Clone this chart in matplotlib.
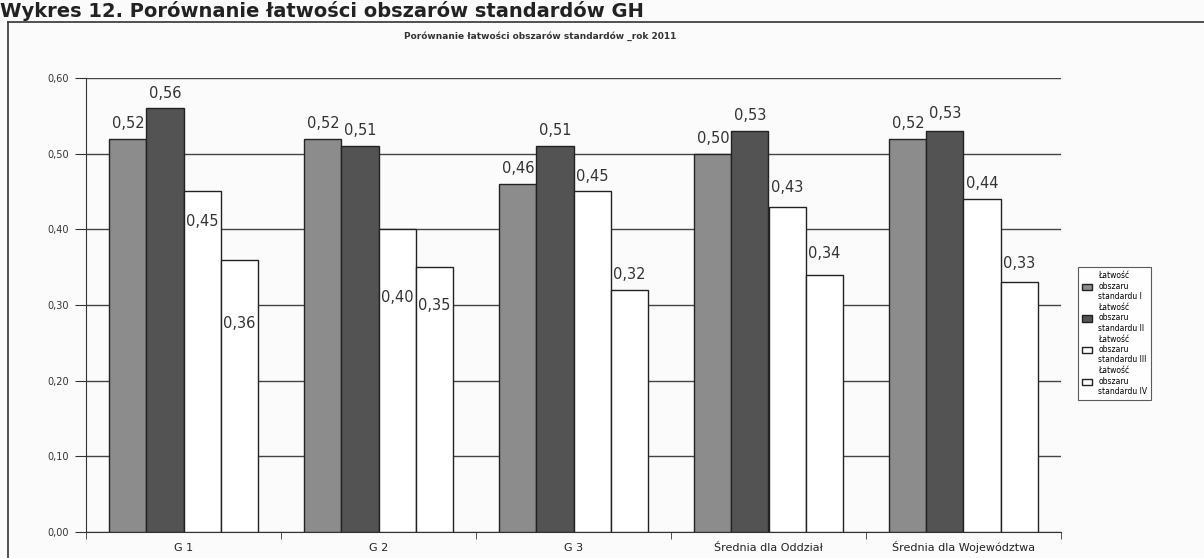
import numpy as np
import matplotlib.pyplot as plt
from matplotlib.ticker import FixedLocator

# chart data
categories = ["G 1", "G 2", "G 3", "Średnia dla Oddział", "Średnia dla Województwa"]
series_names = ["Łatwość\nobszaru\nstandardu I", "Łatwość\nobszaru\nstandardu II",
                "Łatwość\nobszaru\nstandardu III", "Łatwość\nobszaru\nstandardu IV"]
std_1 = [0.52, 0.52, 0.46, 0.50, 0.52]
std_2 = [0.56, 0.51, 0.51, 0.53, 0.53]
std_3 = [0.45, 0.40, 0.45, 0.43, 0.44]
std_4 = [0.36, 0.35, 0.32, 0.34, 0.33]
yticks = [0.0, 0.1, 0.2, 0.3, 0.4, 0.5, 0.6]

# label shift relative to bar top (Excel placed a few of them inside the bars)
label_dy = [
    [0.02, 0.02, -0.04, -0.084],
    [0.02, 0.02, -0.09, -0.05],
    [0.02, 0.02, 0.02, 0.02],
    [0.02, 0.02, 0.025, 0.028],
    [0.02, 0.023, 0.02, 0.025],
]

colors = ["#8c8c8c", "#535353", "white", "white"]
series = [std_1, std_2, std_3, std_4]

fig = plt.figure(figsize=(12.04, 5.58), dpi=100)
fig.patch.set_facecolor("#fbfbfb")

# page header above the chart and the chart frame
fig.text(0.0, 1 - 1 / 558, "Wykres 12. Porównanie łatwości obszarów standardów GH",
         fontsize=14, fontweight="bold", color="#222222", va="top", ha="left")
fig.add_artist(plt.Line2D([8 / 1204, 8 / 1204], [0, 1 - 22 / 558], color="#333333", lw=1.2))
fig.add_artist(plt.Line2D([8 / 1204, 1], [1 - 22 / 558, 1 - 22 / 558], color="#333333", lw=1.2))
fig.text(540 / 1204, 1 - 36 / 558, "Porównanie łatwości obszarów standardów _rok 2011",
         fontsize=6.5, ha="center", va="center", color="#333333", fontweight="bold")

ax = fig.add_axes([86 / 1204, 1 - 532 / 558, 975 / 1204, 454 / 558])
ax.set_facecolor("none")

x = np.arange(len(categories))
w = 0.19
for i, vals in enumerate(series):
    pos = x + (i - 1.5) * w
    ax.bar(pos, vals, width=w, color=colors[i], edgecolor="#222222", linewidth=1.0,
           label=series_names[i], zorder=3)
    for j, v in enumerate(vals):
        ax.text(pos[j], v + label_dy[j][i], f"{v:.2f}".replace(".", ","),
                ha="center", va="center", fontsize=10.5, color="#333333", zorder=4)

ax.set_xlim(-0.5, len(categories) - 0.5)
ax.set_ylim(0, 0.6)
ax.set_yticks(yticks)
ax.set_yticklabels([f"{t:.2f}".replace(".", ",") for t in yticks], fontsize=7, color="#333333")
ax.yaxis.grid(True, color="#444444", linewidth=1.0, zorder=0)
ax.set_axisbelow(True)

ax.set_xticks(x)
ax.set_xticklabels(categories, fontsize=8, color="#222222", va="baseline")
ax.xaxis.set_minor_locator(FixedLocator(np.arange(-0.5, len(categories), 1.0)))
ax.tick_params(axis="x", which="major", length=0, pad=14)
ax.tick_params(axis="x", which="minor", length=5, direction="out", color="#333333")
ax.tick_params(axis="y", length=8, direction="out", color="#333333", pad=4)

for s in ["top", "right"]:
    ax.spines[s].set_visible(False)
ax.spines["left"].set_color("#333333")
ax.spines["bottom"].set_color("#333333")

leg = ax.legend(loc="center left", bbox_to_anchor=(1.014, 0.437), fontsize=5.5,
                frameon=True, fancybox=False, edgecolor="#333333",
                handlelength=1.3, handleheight=0.9, borderpad=0.5, labelspacing=0.25)
leg.get_frame().set_linewidth(0.8)

plt.savefig("out.png", dpi=100, facecolor=fig.get_facecolor())
